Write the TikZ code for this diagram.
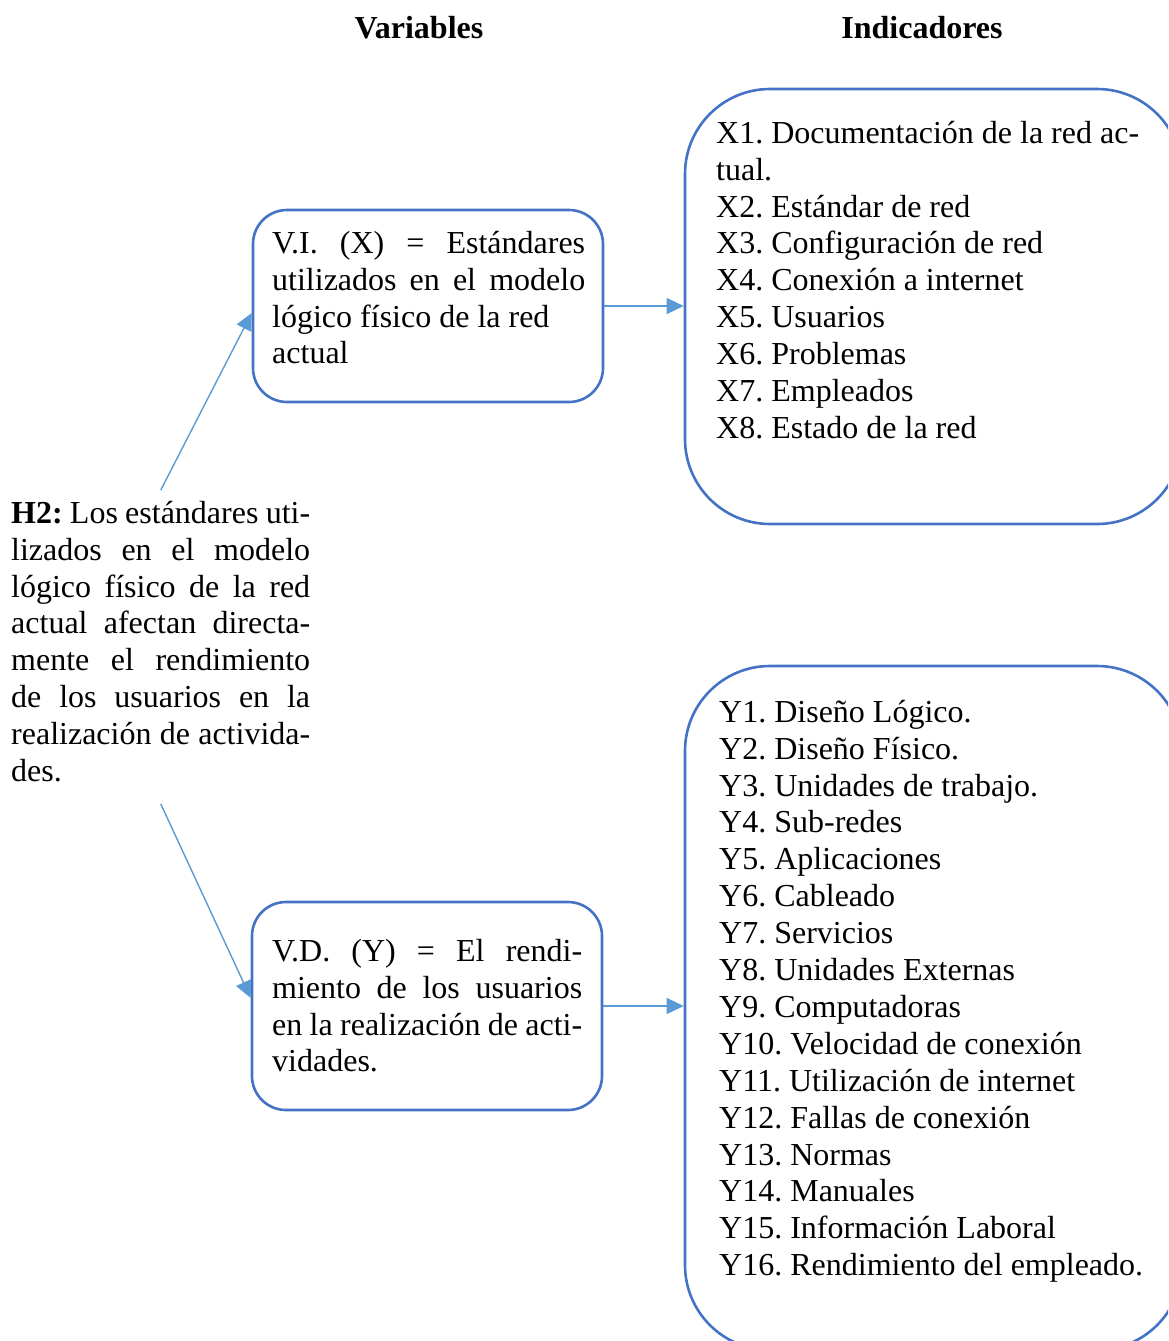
\documentclass[tikz,border=0pt]{standalone}
\usepackage{fontspec}
\setmainfont{Liberation Serif}
\usetikzlibrary{arrows.meta}
\definecolor{boxblue}{HTML}{4472C4}
\definecolor{arrowblue}{HTML}{5B9BD5}
% use the font's own word spacing
\newcommand{\natsp}{\spaceskip=0pt\xspaceskip=0pt\relax}
% a line of text stretched to a given width
\newcommand{\jline}[2]{\makebox[#1][s]{\natsp #2}}
\begin{document}
\begin{tikzpicture}[x=1pt,y=-1pt,
  every node/.style={inner sep=0pt, font=\fontsize{32}{36.9}\selectfont},
  varbox/.style={draw=boxblue, line width=2.6pt, rounded corners=34pt},
  indbox/.style={draw=boxblue, line width=2.6pt, rounded corners=85pt},
  link/.style={draw=arrowblue, line width=1.4pt, -{Triangle[length=17pt,width=16pt]}},
  head/.style={font=\fontsize{32}{36.9}\selectfont\bfseries, anchor=base},
  txt/.style={anchor=north west}]
\useasboundingbox (0,0) rectangle (1168,1341);
\clip (0,0) rectangle (1168,1341);
\frenchspacing

% column headings
\node[head] (hv) at (419,38) {Variables};
\node[head] (hi) at (922,38) {Indicadores};

% variable boxes
\node[varbox, minimum width=350pt, minimum height=192pt] (vi) at (428,306) {};
\node[varbox, minimum width=350pt, minimum height=208pt] (vd) at (427,1006) {};

% indicator boxes
\node[indbox, minimum width=497pt, minimum height=435pt] (xb) at (933.5,306.5) {};
\node[indbox, minimum width=497pt, minimum height=684pt] (yb) at (933.5,1008) {};

% box texts
\node[txt, text width=313pt] (vit) at (272,227.2) {\natsp\strut\jline{313pt}{V.I. (X) = Estándares}\\
\jline{313pt}{utilizados en el modelo}\\
lógico físico de la red\\
actual};

\node[txt, text width=310pt] (vdt) at (272,935.2) {\natsp\strut\jline{310pt}{V.D. (Y) = El rendi-}\\
\jline{310pt}{miento de los usuarios}\\
\jline{310pt}{en la realización de acti-}\\
vidades.};

\node[txt, text width=299pt] (h2) at (11,497.2) {\natsp\strut\jline{299pt}{\textbf{H2:} Los estándares uti-}\\
\jline{299pt}{lizados en el modelo}\\
\jline{299pt}{lógico físico de la red}\\
\jline{299pt}{actual afectan directa-}\\
\jline{299pt}{mente el rendimiento}\\
\jline{299pt}{de los usuarios en la}\\
\jline{299pt}{realización de activida-}\\
des.\strut};

\node[txt, text width=440pt] (xt) at (716,117.2) {\natsp\strut X1. Documentación de la red ac-\\
tual.\\
X2. Estándar de red\\
X3. Configuración de red\\
X4. Conexión a internet\\
X5. Usuarios\\
X6. Problemas\\
X7. Empleados\\
X8. Estado de la red};

\node[txt, text width=440pt] (yt) at (719,696.2) {\natsp\strut Y1. Diseño Lógico.\\
Y2. Diseño Físico.\\
Y3. Unidades de trabajo.\\
Y4. Sub-redes\\
Y5. Aplicaciones\\
Y6. Cableado\\
Y7. Servicios\\
Y8. Unidades Externas\\
Y9. Computadoras\\
Y10. Velocidad de conexión\\
Y11. Utilización de internet\\
Y12. Fallas de conexión\\
Y13. Normas\\
Y14. Manuales\\
Y15. Información Laboral\\
Y16. Rendimiento del empleado.};

% connectors
\draw[link] ([yshift=7pt]h2.north) -- ([yshift=-7pt]vi.west);
\draw[link] ([yshift=-11pt]h2.south) -- ([yshift=8pt]vd.west);
\draw[link] (vi.east) -- (vi.east -| xb.west);
\draw[link] (vd.east) -- (vd.east -| yb.west);
\end{tikzpicture}
\end{document}
